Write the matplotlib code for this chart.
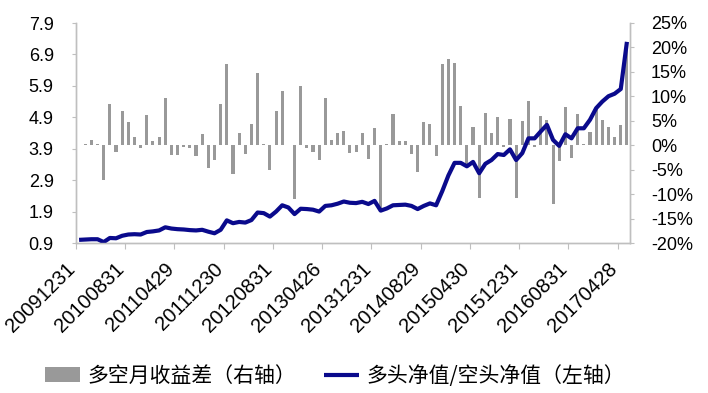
import numpy as np
import matplotlib
matplotlib.use("Agg")
import matplotlib.pyplot as plt
from matplotlib.ticker import FixedLocator, FuncFormatter

# --- dati ---
tick_labels = ['20091231', '20100831', '20110429', '20111230', '20120831', '20130426',
               '20131231', '20140829', '20150430', '20151231', '20160831', '20170428']

# differenza mensile long-short (%), asse destro
spread = [0.0, 0.2, 1.0, 0.2, -7.2, 8.5, -1.4, 7.0, 4.7, 1.6,
          -0.5, 6.1, 0.8, 1.6, 9.6, -2.0, -2.0, -0.3, -0.5, -2.2,
          2.2, -4.6, -3.1, 8.5, 16.6, -5.8, 2.4, -1.7, 4.4, 14.7,
          0.2, -5.0, 7.0, 11.0, 0.1, -11.0, 12.1, -0.5, -1.4, -3.1,
          9.6, 1.0, 2.4, 3.0, -1.6, -1.4, 2.4, -2.9, 3.5, -13.3,
          0.2, 6.3, 0.8, 0.8, -1.7, -5.5, 4.7, 4.4, -2.2, 16.6,
          17.6, 16.8, 8.0, -4.3, 3.7, -10.8, 6.5, 2.4, 5.7, -0.3,
          5.4, -10.8, 4.9, 9.1, -0.3, 6.0, 5.2, -12.1, -3.3, 7.8,
          -2.7, 6.3, 0.2, 2.7, 7.5, 5.2, 3.8, 1.6, 4.1, 21.0]

# rapporto net value long / short, asse sinistro
ratio = [1.00, 1.01, 1.02, 1.02, 0.93, 1.06, 1.05, 1.13, 1.17, 1.18,
         1.17, 1.25, 1.27, 1.30, 1.40, 1.36, 1.34, 1.33, 1.31, 1.30,
         1.32, 1.26, 1.21, 1.32, 1.62, 1.53, 1.57, 1.55, 1.63, 1.87,
         1.85, 1.74, 1.90, 2.10, 2.03, 1.82, 1.99, 1.98, 1.96, 1.90,
         2.08, 2.10, 2.15, 2.22, 2.18, 2.17, 2.21, 2.14, 2.24, 1.93,
         2.00, 2.10, 2.11, 2.12, 2.08, 1.98, 2.08, 2.16, 2.10, 2.55,
         3.05, 3.45, 3.45, 3.34, 3.48, 3.12, 3.42, 3.54, 3.73, 3.70,
         3.88, 3.54, 3.76, 4.23, 4.23, 4.45, 4.66, 4.18, 3.99, 4.36,
         4.23, 4.55, 4.55, 4.82, 5.19, 5.40, 5.57, 5.65, 5.80, 7.30]

legend_bar = '多空月收益差（右轴）'
legend_line = '多头净值/空头净值（左轴）'

x = np.arange(len(ratio))
spine_col = '#BFBFBF'
num_font = 'Liberation Sans'
cjk = ['Noto Sans CJK SC', 'DejaVu Sans']

fig = plt.figure(figsize=(7.08, 3.93), dpi=100)
ax1 = fig.add_axes([76 / 708, 1 - 243 / 393, (630 - 76) / 708, (243 - 23) / 393])
ax2 = ax1.twinx()

bars = ax2.bar(x, np.array(spread) / 100, width=0.5, color='#999999', zorder=1)
ax1.set_zorder(ax2.get_zorder() + 1)
ax1.patch.set_visible(False)
line, = ax1.plot(x, ratio, color='#0A0A8C', lw=3.0, solid_capstyle='butt',
                 solid_joinstyle='round')

ax1.set_xlim(-0.5, len(ratio) - 0.5)
ax1.set_ylim(0.9, 7.9)
ax2.set_ylim(-0.20, 0.25)
ax1.set_yticks(np.arange(0.9, 7.95, 1.0))
ax1.yaxis.set_major_formatter(FuncFormatter(lambda v, p: f'{v:.1f}'))
ax2.set_yticks(np.arange(-0.20, 0.2501, 0.05))
ax2.yaxis.set_major_formatter(FuncFormatter(lambda v, p: f'{int(round(v * 100))}%'))

# etichette date ogni 8 mesi, tacche ai bordi delle categorie
ax1.set_xticks(np.arange(0, len(ratio), 8))
ax1.set_xticklabels(tick_labels, rotation=45, ha='right', va='top',
                    fontfamily=num_font, fontsize=14.5)
ax1.xaxis.set_minor_locator(FixedLocator(np.arange(-0.5, len(ratio), 8)))
ax1.tick_params(axis='x', which='major', length=0, pad=12)
ax1.tick_params(axis='x', which='minor', length=4, width=0.8, color=spine_col)

ax1.tick_params(axis='y', length=3, width=0.8, color=spine_col, pad=13, labelsize=13)
ax2.tick_params(axis='y', length=3, width=0.8, color=spine_col, pad=12, labelsize=13)
for lab in ax1.get_yticklabels() + ax2.get_yticklabels():
    lab.set_fontfamily(num_font)

for ax in (ax1, ax2):
    ax.spines['top'].set_visible(False)
    for s in ('left', 'right', 'bottom'):
        ax.spines[s].set_color(spine_col)
        ax.spines[s].set_linewidth(1.0)

fig.legend([bars, line], [legend_bar, legend_line], loc='center',
           bbox_to_anchor=(335 / 708, 1 - 376 / 393), ncol=2, frameon=False,
           prop={'family': cjk, 'size': 15}, handlelength=1.7,
           handletextpad=0.35, columnspacing=1.3)

fig.savefig('out.png', dpi=100)
